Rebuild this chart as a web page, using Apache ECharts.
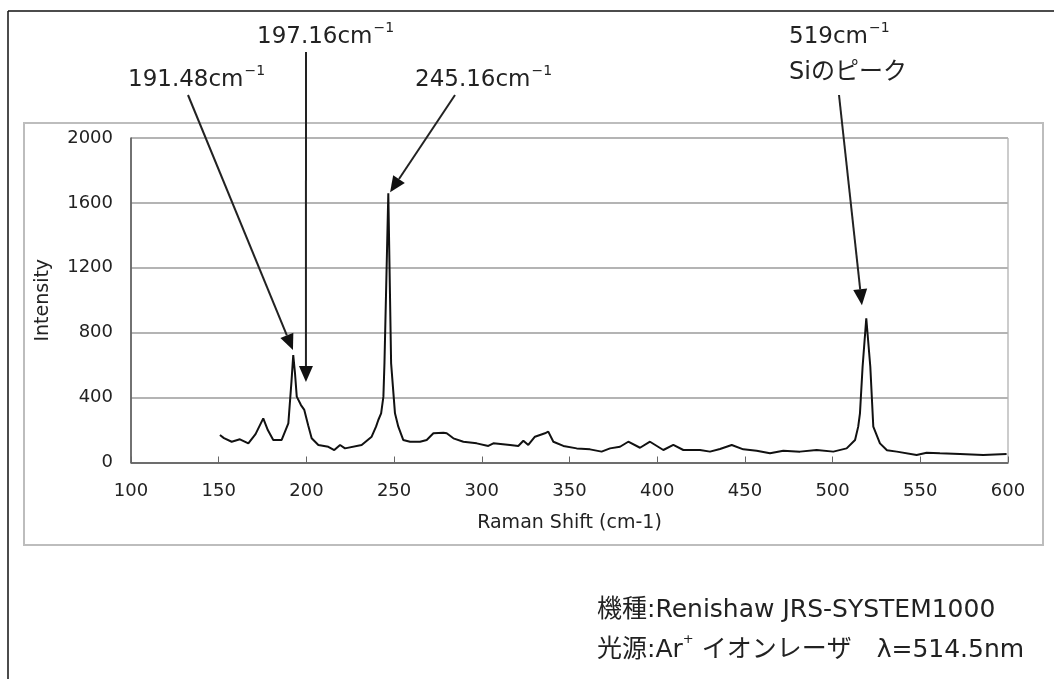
<!DOCTYPE html>
<html><head><meta charset="utf-8">
<script src="https://cdn.jsdelivr.net/npm/echarts@6/dist/echarts.min.js"></script>
<style>html,body{margin:0;padding:0;background:#fff}#c{width:1054px;height:679px}</style>
</head><body><div id="c"></div>
<script>
// Raman shift (cm-1) and intensity
const ramanShift = [150.7,153,157.4,162.1,166.9,171,175.4,178,181.1,185.9,189.7,191.5,192.5,193.5,194.5,196.9,198.8,201,203,206.8,212.5,215.9,219.2,222,231.5,237.2,239.7,241,242.6,243.9,244.5,246.7,248.3,250.5,252.4,255.2,259.1,264.8,268.6,272.4,278.1,280,283.8,289.5,297.1,303.7,306.6,316.1,320.8,323.7,326.5,330.3,336,337.9,340.8,346.5,354.1,361.7,368.3,373.1,378.8,383.5,390.2,395.9,403.5,409.2,414.9,424.4,430.1,435.8,442.5,449.1,456.7,464.3,471.9,481.4,490.9,500.4,508,512.8,514.6,515.6,517.1,519.2,521.5,523.2,527,531,536.6,547.9,553.6,561.2,572.6,585.9,599.2];
const intensity = [169,150,128,143,118,175,272,200,139,139,241,500,662,550,406,354,324,230,149,108,97,77,108,87,108,159,221,262,303,406,611,1659,611,303,221,139,128,128,139,180,184,180,149,128,118,102,118,108,102,134,108,159,180,190,128,102,87,81,67,87,97,128,91,128,77,108,77,77,67,83,108,81,73,57,73,67,77,67,87,139,221,303,590,889,590,221,118,75,67,46,60,57,53,46,53];
const xTicks = [100,150,200,250,300,350,400,450,500,550,600];
const yTicks = [0,400,800,1200,1600,2000];
// peak annotations
const peakShift = [191.48, 197.16, 245.16, 519];
const peakIntensity = [662, 354, 1659, 889];
const peakLabel = ['191.48', '197.16', '245.16', '519'];

const FONT = '"DejaVu Sans", "Noto Sans CJK JP", sans-serif';
const chart = echarts.init(document.getElementById('c'));
const seriesData = ramanShift.map((x, i) => [x, intensity[i]]);

chart.setOption({
  backgroundColor: '#fff',
  animation: false,
  grid: { left: 131, top: 138, right: 46, bottom: 216.5, show: true, borderColor: '#999', borderWidth: 1 },
  xAxis: {
    type: 'value', min: xTicks[0], max: xTicks[xTicks.length - 1], interval: 50,
    name: 'Raman Shift (cm-1)', nameLocation: 'middle', nameGap: 51,
    nameTextStyle: { fontSize: 19, color: '#222', fontFamily: FONT },
    axisLine: { lineStyle: { color: '#555', width: 1.5 } },
    axisTick: { inside: true, length: 6, lineStyle: { color: '#666' } },
    axisLabel: { fontSize: 18, color: '#222', margin: 20, fontFamily: FONT },
    splitLine: { show: false }
  },
  yAxis: {
    type: 'value', min: yTicks[0], max: yTicks[yTicks.length - 1], interval: 400,
    name: 'Intensity', nameLocation: 'middle', nameGap: 78,
    nameTextStyle: { fontSize: 19, color: '#222', fontFamily: FONT },
    axisLine: { show: true, lineStyle: { color: '#555', width: 1.5 } },
    axisTick: { show: false },
    axisLabel: { fontSize: 18, color: '#222', margin: 18, fontFamily: FONT, formatter: v => String(v) },
    splitLine: { lineStyle: { color: '#b4b4b4', width: 2 } }
  },
  series: [{
    type: 'line', data: seriesData, showSymbol: false, smooth: false,
    lineStyle: { color: '#111', width: 2 }
  }]
});

function supLabel(num, x, y) {
  return {
    type: 'text', x: x, y: y, z: 10,
    style: {
      text: '{a|' + num + 'cm}{s|−1}',
      rich: {
        a: { fontSize: 23, fontFamily: FONT, fill: '#222', lineHeight: 28, verticalAlign: 'bottom' },
        s: { fontSize: 14, fontFamily: FONT, fill: '#222', lineHeight: 28, verticalAlign: 'top', padding: [0, 0, 0, 1] }
      },
      align: 'left', verticalAlign: 'middle'
    }
  };
}

function arrow(from, to) {
  const dx = to[0] - from[0], dy = to[1] - from[1];
  const len = Math.sqrt(dx * dx + dy * dy);
  const ux = dx / len, uy = dy / len;
  const hl = 16, hw = 7;
  const bx = to[0] - ux * hl, by = to[1] - uy * hl;
  return [
    { type: 'line', z: 10, shape: { x1: from[0], y1: from[1], x2: bx, y2: by }, style: { stroke: '#222', lineWidth: 2 } },
    { type: 'polygon', z: 10, shape: { points: [[to[0], to[1]], [bx - uy * hw, by + ux * hw], [bx + uy * hw, by - ux * hw]] }, style: { fill: '#111' } }
  ];
}

const tips = peakShift.map((x, i) => chart.convertToPixel({ gridIndex: 0 }, [x, peakIntensity[i]]));
const tails = [[188, 95], [306, 52], [455, 95], [839, 95]];
const tipOffsets = [[1.5, -5], [4.5, -23], [4.5, -1], [-4, -13]];

const graphics = [
  // outer black frame (top and left)
  { type: 'line', shape: { x1: 8, y1: 11, x2: 1054, y2: 11 }, style: { stroke: '#111', lineWidth: 1.5 } },
  { type: 'line', shape: { x1: 8, y1: 11, x2: 8, y2: 679 }, style: { stroke: '#111', lineWidth: 1.5 } },
  // chart area box
  { type: 'rect', shape: { x: 24, y: 123, width: 1019, height: 422 }, style: { fill: 'none', stroke: '#bdbdbd', lineWidth: 2 }, z: -1 },
  supLabel(peakLabel[0], 128, 78),
  supLabel(peakLabel[1], 257, 35),
  supLabel(peakLabel[2], 415, 78),
  supLabel(peakLabel[3], 789, 35),
  { type: 'text', x: 789, y: 73, z: 10, style: { text: 'Siのピーク', fontSize: 24, fontFamily: FONT, fill: '#222', verticalAlign: 'middle' } },
  { type: 'text', x: 597, y: 610, style: { text: '機種:Renishaw JRS-SYSTEM1000', fontSize: 25, fontFamily: FONT, fill: '#222', verticalAlign: 'middle' } },
  { type: 'text', x: 597, y: 648, style: { text: '{t|光源:Ar}{s|+}{t| イオンレーザ　λ=514.5nm}', rich: { t: { fontSize: 25, fontFamily: FONT, fill: '#222', lineHeight: 30, verticalAlign: 'bottom' }, s: { fontSize: 13, fontFamily: FONT, fill: '#222', lineHeight: 30, verticalAlign: 'top' } }, verticalAlign: 'middle' } }
];
tails.forEach((t, i) => {
  const tip = [tips[i][0] + tipOffsets[i][0], tips[i][1] + tipOffsets[i][1]];
  arrow(t, tip).forEach(g => graphics.push(g));
});
chart.setOption({ graphic: graphics });
</script>
</body></html>
